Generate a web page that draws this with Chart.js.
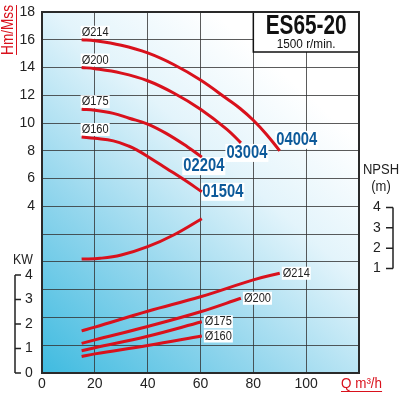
<!DOCTYPE html>
<html lang="en">
<head>
<meta charset="UTF-8">
<title>ES65-20 pump curves</title>
<script src="https://cdn.jsdelivr.net/npm/chart.js"></script>
<style>
  html, body { margin: 0; padding: 0; background: #fff; }
  .chart-box { width: 400px; height: 400px; }
</style>
</head>
<body>
<div class="chart-box"><canvas id="pumpChart"></canvas></div>
<script>
// values
const flowTicks = [0, 20, 40, 60, 80, 100];
const headTicks = [4, 6, 8, 10, 12, 14, 16, 18];
const kwTicks = [0, 1, 2, 3, 4];
const npshTicks = [1, 2, 3, 4];

const impellers = ['Ø214', 'Ø200', 'Ø175', 'Ø160'];
const models = ['04004', '03004', '02204', '01504'];

// head curves (Q m3/h -> H m)
const headFlow214 = [15, 20, 30, 40, 50, 60, 70, 75, 80, 85, 90];
const head214 = [16, 15.93, 15.6, 15.05, 14.2, 13.1, 11.75, 11.05, 10.2, 9.18, 8.0];
const headFlow200 = [15, 20, 30, 40, 50, 60, 70, 75.3];
const head200 = [14, 13.92, 13.6, 13.05, 12.15, 11.0, 9.55, 8.57];
const headFlow175 = [15, 20, 27, 33, 40, 47, 55, 60.5];
const head175 = [11, 10.93, 10.7, 10.35, 9.93, 9.26, 8.3, 7.55];
const headFlow160 = [15, 20, 27, 33, 36.5, 40, 47, 55, 60.5];
const head160 = [9.0, 8.9, 8.72, 8.33, 8.0, 7.6, 6.75, 5.77, 5.05];

// NPSH curve (m)
const npshFlow = [15, 22, 30, 40, 50, 60.5];
const npshValues = [1.46, 1.5, 1.66, 2.07, 2.66, 3.45];

// power curves (kW)
const kwFlow214 = [15, 20, 40, 60, 80, 90];
const kw214 = [1.72, 1.87, 2.52, 3.11, 3.8, 4.07];
const kwFlow200 = [15, 20, 40, 60, 75.3];
const kw200 = [1.21, 1.35, 1.9, 2.5, 3.05];
const kwFlow175 = [15, 20, 40, 60.5];
const kw175 = [0.91, 1.03, 1.5, 2.09];
const kwFlow160 = [15, 20, 40, 60.5];
const kw160 = [0.67, 0.78, 1.12, 1.51];

const headSets = [[headFlow214, head214], [headFlow200, head200], [headFlow175, head175], [headFlow160, head160]];
const kwSets = [[kwFlow214, kw214], [kwFlow200, kw200], [kwFlow175, kw175], [kwFlow160, kw160]];

// where the model numbers sit relative to the end of each head curve (px)
const modelOffsets = [[17, -11], [6, 10], [2, 9], [21, 0]];

const FONT = "'Liberation Sans', Arial, sans-serif";
const RED = '#d9111c';
const BLUE = '#0d5a9a';
const INK = '#222';

function toPoints(xs, ys) {
    return xs.map((x, i) => ({ x: x, y: ys[i] }));
}

function curve(points, axis) {
    return {
        data: points,
        yAxisID: axis,
        borderColor: RED,
        borderWidth: 3,
        pointRadius: 0,
        fill: false,
        tension: 0.4,
        borderCapStyle: 'butt'
    };
}

const datasets = [];
headSets.forEach(s => datasets.push(curve(toPoints(s[0], s[1]), 'y')));
datasets.push(curve(toPoints(npshFlow, npshValues), 'npsh'));
kwSets.forEach(s => datasets.push(curve(toPoints(s[0], s[1]), 'kw')));

function fixedTicks(values) {
    return scale => { scale.ticks = values.map(v => ({ value: v })); };
}

// fixed box size, and no extra room asked for the end labels
function fitTo(size) {
    return s => {
        if (s.isHorizontal()) s.height = size; else s.width = size;
        s.paddingTop = 0; s.paddingBottom = 0;
        s.paddingLeft = 0; s.paddingRight = 0;
    };
}

// condensed look: squeeze the text horizontally
function narrowText(ctx, it) {
    ctx.save();
    ctx.font = it.font;
    ctx.fillStyle = it.color;
    ctx.textAlign = it.align;
    ctx.textBaseline = it.baseline;
    ctx.translate(it.x, it.y);
    if (it.rotate) ctx.rotate(it.rotate);
    ctx.scale(it.sx, 1);
    ctx.fillText(it.text, 0, 0);
    ctx.restore();
}

function textWidth(ctx, it) {
    ctx.save();
    ctx.font = it.font;
    const w = ctx.measureText(it.text).width * it.sx;
    ctx.restore();
    return w;
}

// every text placed on the plot, anchored through the scales
function plotLabels(chart) {
    const xs = chart.scales.x, ys = chart.scales.y, ks = chart.scales.kw;
    const items = [];
    headSets.forEach((s, i) => {
        items.push({
            text: impellers[i], font: '13px ' + FONT, color: INK, align: 'left', baseline: 'bottom', sx: 0.85,
            x: xs.getPixelForValue(s[0][0]), y: ys.getPixelForValue(s[1][0]) - 1
        });
        const n = s[0].length - 1;
        items.push({
            text: models[i], font: 'bold 18px ' + FONT, color: BLUE, align: 'center', baseline: 'middle', sx: 0.82,
            x: xs.getPixelForValue(s[0][n]) + modelOffsets[i][0],
            y: ys.getPixelForValue(s[1][n]) + modelOffsets[i][1]
        });
    });
    kwSets.forEach((s, i) => {
        const n = s[0].length - 1;
        items.push({
            text: impellers[i], font: '13px ' + FONT, color: INK, align: 'left', baseline: 'middle', sx: 0.85,
            x: xs.getPixelForValue(s[0][n]) + 3, y: ks.getPixelForValue(s[1][n])
        });
    });
    return items;
}

function labelBox(ctx, it) {
    const w = textWidth(ctx, it);
    const h = parseInt(it.font.match(/(\d+)px/)[1], 10);
    let left = it.x;
    if (it.align === 'center') left = it.x - w / 2;
    let top = it.y - h / 2;
    if (it.baseline === 'bottom') top = it.y - h;
    return { x: left - 1, y: top, w: w + 2, h: h };
}

const sheetDecor = {
    id: 'sheetDecor',
    beforeDraw(chart) {
        const { ctx, chartArea: a } = chart;
        const g = ctx.createLinearGradient(a.left, a.bottom, a.right, a.top);
        g.addColorStop(0, '#3fbbe0');
        g.addColorStop(0.3, '#93d6ed');
        g.addColorStop(0.58, '#e3f4fb');
        g.addColorStop(0.8, '#ffffff');
        ctx.save();
        ctx.fillStyle = g;
        ctx.fillRect(a.left, a.top, a.right - a.left, a.bottom - a.top);
        ctx.restore();
    },
    beforeDatasetsDraw(chart) {
        const { ctx, chartArea: a } = chart;
        ctx.save();
        ctx.fillStyle = '#fff';
        plotLabels(chart).forEach(it => {
            const b = labelBox(ctx, it);
            ctx.fillRect(b.x, b.y, b.w, b.h);
        });
        // title box
        const bx = chart.scales.x.getPixelForValue(80);
        ctx.fillRect(bx, a.top, a.right - bx, 40);
        ctx.strokeStyle = '#111';
        ctx.lineWidth = 1.5;
        ctx.strokeRect(bx, a.top, a.right - bx, 40);
        ctx.restore();
        const cx = (bx + a.right) / 2;
        const title = { text: 'ES65-20', font: 'bold 27px ' + FONT, color: '#111', align: 'center', baseline: 'alphabetic', sx: 1, x: cx, y: a.top + 22 };
        title.sx = 81 / textWidth(ctx, title);
        narrowText(ctx, title);
        narrowText(ctx, { text: '1500 r/min.', font: '12px ' + FONT, color: '#111', align: 'center', baseline: 'alphabetic', sx: 0.98, x: cx, y: a.top + 36 });
    },
    afterDatasetsDraw(chart) {
        plotLabels(chart).forEach(it => narrowText(chart.ctx, it));
    },
    afterDraw(chart) {
        const { ctx, chartArea: a } = chart;
        const ks = chart.scales.kw, ns = chart.scales.npsh;
        ctx.save();
        // plot frame
        ctx.strokeStyle = '#2a2a2a';
        ctx.lineWidth = 2;
        ctx.strokeRect(a.left, a.top, a.right - a.left, a.bottom - a.top);

        // brackets for the kW and NPSH scales
        ctx.strokeStyle = INK;
        ctx.lineWidth = 1.5;
        ctx.beginPath();
        ctx.moveTo(15, ks.getPixelForValue(kwTicks[0]));
        ctx.lineTo(15, ks.getPixelForValue(kwTicks[kwTicks.length - 1]));
        kwTicks.forEach(v => {
            const py = ks.getPixelForValue(v);
            ctx.moveTo(15, py);
            ctx.lineTo(21, py);
        });
        ctx.moveTo(393, ns.getPixelForValue(npshTicks[0]));
        ctx.lineTo(393, ns.getPixelForValue(npshTicks[npshTicks.length - 1]));
        npshTicks.forEach(v => {
            const py = ns.getPixelForValue(v);
            ctx.moveTo(386, py);
            ctx.lineTo(393, py);
        });
        ctx.stroke();
        ctx.restore();

        // axis captions
        const cap = { font: '14px ' + FONT, color: INK, align: 'center', baseline: 'middle' };
        narrowText(ctx, Object.assign({ text: 'KW', x: 23, y: 260, sx: 0.88 }, cap));
        narrowText(ctx, Object.assign({ text: 'NPSH', x: 381, y: 170, sx: 0.93 }, cap));
        narrowText(ctx, Object.assign({ text: '(m)', x: 381, y: 187, sx: 0.93 }, cap));

        const hm = { text: 'Hm/Mss', font: '16px ' + FONT, color: RED, align: 'center', baseline: 'middle', sx: 0.85, x: 9, y: 30, rotate: -Math.PI / 2 };
        const hw = textWidth(ctx, hm);
        narrowText(ctx, hm);
        const q = { text: 'Q m³/h', font: '14px ' + FONT, color: RED, align: 'left', baseline: 'alphabetic', sx: 0.96, x: 341, y: 388 };
        const qw = textWidth(ctx, q);
        narrowText(ctx, q);

        ctx.save();
        ctx.strokeStyle = RED;
        ctx.lineWidth = 1;
        ctx.beginPath();
        ctx.moveTo(16.5, 30 - hw / 2);
        ctx.lineTo(16.5, 30 + hw / 2);
        ctx.moveTo(341, 391.5);
        ctx.lineTo(341 + qw, 391.5);
        ctx.stroke();
        ctx.restore();
    }
};

const tickFont = { family: FONT, size: 14 };
const gridStyle = { color: 'rgba(50,50,50,0.8)', lineWidth: 1, drawTicks: false };

new Chart(document.getElementById('pumpChart'), {
    type: 'line',
    data: { datasets: datasets },
    options: {
        responsive: true,
        maintainAspectRatio: false,
        animation: false,
        layout: { padding: { top: 12, left: 0, right: 0, bottom: 0 } },
        plugins: { legend: { display: false }, tooltip: { enabled: false } },
        scales: {
            x: {
                type: 'linear', min: 0, max: 120,
                afterBuildTicks: fixedTicks(flowTicks.concat([120])),
                afterFit: fitTo(27),
                grid: gridStyle,
                border: { display: false },
                ticks: {
                    font: tickFont, color: INK, padding: 3, autoSkip: false, maxRotation: 0,
                    callback: v => flowTicks.includes(v) ? v : ''
                }
            },
            y: {
                position: 'left', weight: 1, min: -8, max: 18,
                afterBuildTicks: s => {
                    const t = [];
                    for (let v = -8; v <= 18; v += 2) t.push({ value: v });
                    s.ticks = t;
                },
                afterFit: fitTo(42),
                grid: gridStyle,
                border: { display: false },
                ticks: {
                    font: tickFont, color: INK, padding: 7, autoSkip: false,
                    callback: v => headTicks.includes(v) ? v : ''
                }
            },
            kw: {
                // zero-width axis: its labels are mirrored back into the left margin
                position: 'left', weight: 0, min: 0, max: 14.73,
                afterBuildTicks: fixedTicks(kwTicks),
                afterFit: fitTo(0),
                grid: { display: false, drawTicks: false },
                border: { display: false },
                ticks: { font: tickFont, color: INK, mirror: true, padding: -17, autoSkip: false }
            },
            npsh: {
                position: 'right', min: -4.15, max: 13.63,
                afterBuildTicks: fixedTicks(npshTicks),
                afterFit: fitTo(41),
                grid: { display: false, drawTicks: false },
                border: { display: false },
                ticks: { font: tickFont, color: INK, padding: 14, autoSkip: false }
            }
        }
    },
    plugins: [sheetDecor]
});
</script>
</body>
</html>
